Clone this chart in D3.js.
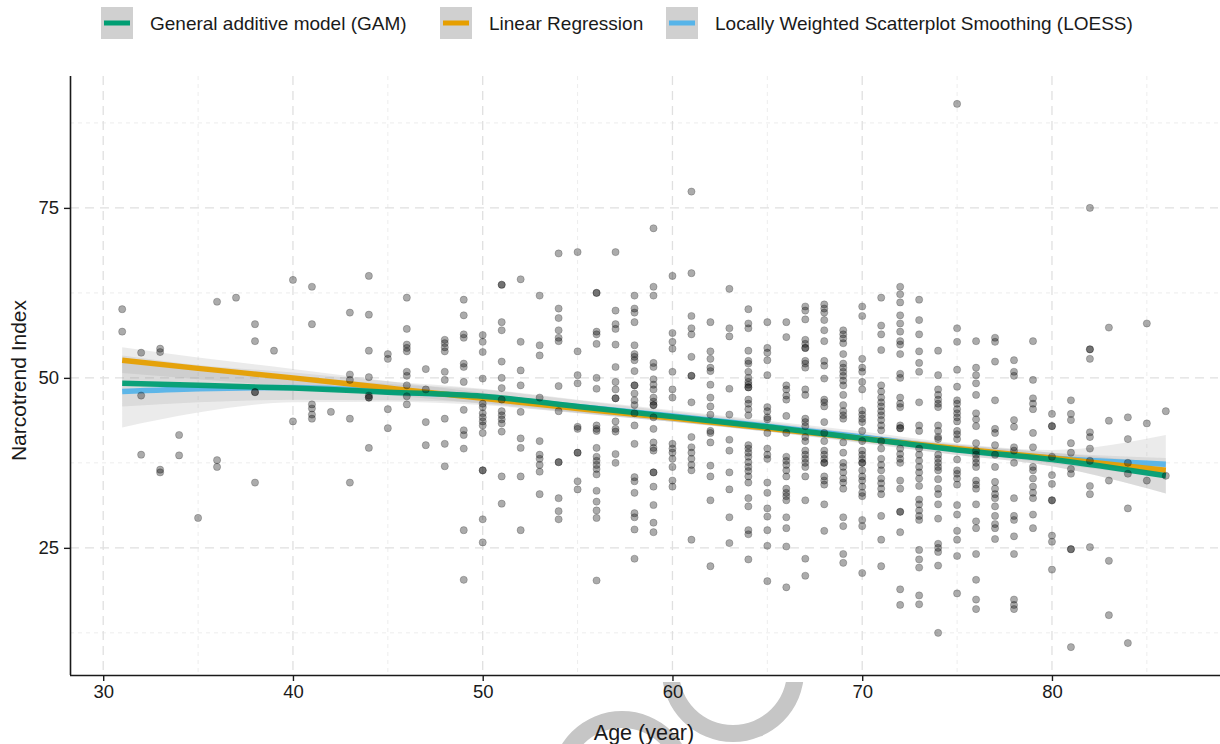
<!DOCTYPE html>
<html>
<head>
<meta charset="utf-8">
<script src="https://cdn.jsdelivr.net/npm/d3@7"></script>
<style>
  body { margin: 0; background: #fff; }
  svg { display: block; }
  text { font-family: "Liberation Sans", Arial, Helvetica, sans-serif; fill: #1a1a1a; }
</style>
</head>
<body>
<svg width="1220" height="744"></svg>
<script>
// age (years) of each column of points, and the narcotrend readings in that column
const ages = [31,32,33,34,35,36,37,38,39,40,41,42,43,44,45,46,47,48,49,50,51,52,53,54,55,56,57,58,
  59,60,61,62,63,64,65,66,67,68,69,70,71,72,73,74,75,76,77,78,79,80,81,82,83,84,85,86];
const narcotrend = [
  [60.1, 56.8],
  [53.7, 47.4, 38.7],
  [54.3, 53.8, 36.5, 36.1],
  [41.6, 38.6],
  [29.4],
  [61.2, 37.9, 36.9],
  [61.8],
  [57.9, 55.4, 47.9, 47.9, 34.6],
  [54.0],
  [64.4, 43.6],
  [63.4, 57.9, 46.1, 45.5, 44.6, 44.0],
  [45.0],
  [59.6, 50.5, 49.7, 44.0, 34.6],
  [65.0, 59.3, 54.0, 50.1, 47.4, 47.1, 47.1, 39.7],
  [53.5, 52.8, 45.4, 42.6],
  [61.8, 57.2, 54.9, 54.4, 53.9, 50.9, 50.3, 48.9, 47.3, 46.1],
  [51.3, 48.3, 43.5, 40.1],
  [55.6, 55.1, 54.5, 53.9, 50.9, 49.7, 44.0, 40.3, 37.0],
  [61.5, 59.2, 56.4, 55.9, 52.1, 51.6, 49.4, 45.3, 42.3, 41.6, 39.6, 27.6, 20.3],
  [56.3, 55.3, 53.8, 49.9, 46.2, 45.7, 44.8, 44.2, 43.6, 43.0, 41.9, 36.4, 36.4, 29.2, 25.8],
  [63.7, 63.7, 58.2, 57.0, 52.4, 50.0, 48.5, 46.8, 45.1, 44.5, 43.9, 43.3, 42.1, 35.5, 31.5],
  [64.5, 55.3, 51.1, 48.9, 45.0, 41.1, 39.7, 35.5, 27.6],
  [62.1, 54.8, 53.3, 47.1, 40.7, 38.7, 38.1, 37.2, 36.2, 32.9],
  [68.3, 60.2, 58.8, 57.0, 55.9, 55.4, 48.8, 45.1, 37.6, 37.6, 32.3, 30.4, 29.2],
  [68.5, 53.9, 50.4, 49.2, 42.8, 42.5, 39.0, 39.0, 34.8, 33.6],
  [62.5, 62.5, 56.8, 56.4, 55.0, 50.0, 48.4, 43.0, 42.5, 42.2, 39.7, 38.4, 37.8, 37.2, 36.6, 35.8, 33.4, 31.8, 30.5, 29.4, 20.2],
  [68.5, 59.9, 57.9, 57.2, 54.9, 51.6, 49.4, 48.3, 47.0, 47.0, 43.6, 42.5, 42.1, 38.8, 37.5],
  [62.1, 60.2, 59.6, 58.2, 54.8, 53.5, 53.1, 52.6, 51.0, 48.9, 48.9, 47.7, 46.7, 46.0, 44.8, 43.0, 40.3, 35.4, 34.8, 33.1, 30.1, 29.5, 27.7, 23.4],
  [72.0, 63.4, 62.1, 52.2, 51.6, 49.8, 49.0, 48.3, 47.1, 46.5, 46.0, 46.0, 44.2, 42.5, 40.5, 39.7, 39.3, 36.1, 36.1, 34.0, 31.3, 28.7, 27.3],
  [65.0, 56.6, 55.3, 54.3, 50.9, 48.3, 47.1, 40.3, 39.6, 39.0, 38.1, 36.9, 34.9, 34.0],
  [77.4, 65.4, 59.1, 57.3, 56.4, 53.1, 50.3, 50.3, 46.4, 41.3, 39.8, 39.0, 38.1, 37.2, 36.4, 26.2],
  [58.2, 53.9, 52.8, 51.5, 51.0, 49.0, 47.1, 45.8, 44.6, 42.2, 41.9, 40.5, 37.1, 35.5, 32.0, 22.3],
  [63.1, 57.3, 56.1, 48.4, 44.6, 40.9, 39.3, 36.1, 33.6, 29.5, 25.7],
  [60.1, 58.0, 57.3, 54.0, 52.5, 52.1, 50.9, 50.0, 49.4, 49.0, 48.6, 48.6, 46.8, 46.2, 45.4, 44.5, 40.1, 39.6, 39.0, 38.4, 37.6, 36.9, 36.3, 35.5, 34.6, 32.3, 31.1, 27.6, 27.0, 23.3],
  [58.2, 54.4, 53.7, 52.6, 50.4, 45.7, 45.1, 44.2, 43.9, 41.9, 39.6, 38.7, 38.1, 34.6, 33.1, 30.8, 29.6, 27.6, 25.3, 20.1],
  [58.2, 56.0, 48.9, 48.3, 47.4, 46.8, 44.4, 41.9, 38.4, 37.8, 37.2, 36.4, 35.5, 33.7, 33.1, 32.6, 32.0, 29.5, 27.9, 25.2, 19.2],
  [60.5, 59.9, 58.6, 55.6, 55.0, 54.4, 54.4, 52.5, 52.1, 51.5, 48.3, 47.5, 44.0, 43.5, 42.9, 41.3, 40.7, 39.3, 38.7, 38.1, 37.5, 36.9, 35.5, 32.0, 23.4, 20.9],
  [60.8, 60.2, 59.6, 58.5, 57.0, 55.4, 52.5, 51.8, 49.9, 46.8, 46.4, 45.8, 43.5, 41.9, 40.7, 39.3, 38.7, 38.1, 37.5, 37.5, 35.5, 34.9, 34.3, 31.4, 27.5],
  [57.0, 56.4, 55.8, 55.1, 53.5, 52.1, 51.5, 50.9, 50.3, 49.6, 48.9, 47.5, 46.0, 45.1, 44.5, 44.0, 40.5, 39.0, 37.5, 36.9, 36.1, 35.2, 34.6, 33.7, 29.5, 28.2, 24.1, 22.8],
  [60.5, 59.1, 52.8, 51.5, 50.9, 49.4, 48.3, 45.2, 44.6, 44.0, 43.5, 42.2, 40.7, 39.3, 38.7, 38.1, 37.5, 37.5, 36.4, 35.5, 34.9, 34.0, 33.1, 32.6, 29.1, 28.2, 21.3],
  [61.8, 57.7, 56.4, 54.1, 48.9, 48.0, 47.1, 46.4, 45.8, 45.1, 44.5, 43.8, 43.0, 42.3, 40.7, 39.6, 38.1, 37.2, 36.4, 35.2, 34.5, 33.7, 32.9, 29.7, 26.2, 22.3],
  [63.4, 62.3, 61.1, 59.2, 58.0, 56.8, 55.4, 54.9, 53.5, 50.6, 50.0, 47.1, 46.2, 45.7, 43.0, 42.6, 42.6, 39.6, 38.8, 38.1, 37.5, 34.9, 33.7, 30.3, 30.3, 27.3, 18.9, 16.6],
  [61.5, 58.5, 56.4, 53.9, 52.2, 50.9, 46.4, 43.0, 42.2, 39.6, 38.7, 37.8, 36.9, 36.1, 35.2, 34.1, 32.1, 31.4, 30.5, 29.7, 29.1, 24.7, 23.3, 22.1, 18.0, 16.7],
  [54.0, 50.4, 48.3, 47.5, 46.8, 46.2, 45.7, 43.0, 42.2, 41.3, 41.0, 38.7, 38.1, 37.5, 36.9, 36.4, 35.1, 33.7, 32.9, 31.4, 29.3, 25.6, 25.0, 24.4, 22.4, 12.5],
  [90.3, 57.3, 55.3, 51.2, 48.7, 46.7, 46.2, 45.4, 44.8, 44.2, 43.6, 42.2, 41.7, 41.0, 38.0, 36.4, 35.9, 35.2, 34.3, 31.3, 29.9, 27.5, 26.2, 23.8, 18.3],
  [55.4, 51.5, 50.4, 49.2, 47.5, 44.8, 43.9, 42.9, 40.4, 39.3, 38.7, 38.1, 37.5, 36.9, 34.9, 34.3, 33.7, 31.4, 28.9, 27.9, 24.1, 20.3, 17.4, 16.0],
  [55.9, 55.3, 52.4, 46.7, 42.5, 41.9, 40.1, 38.7, 36.9, 34.7, 33.7, 32.9, 32.3, 31.1, 29.7, 28.5, 27.9, 26.3],
  [52.6, 50.9, 50.3, 43.8, 42.8, 39.8, 39.3, 37.5, 32.3, 29.7, 29.1, 26.7, 24.1, 17.4, 16.6, 16.0],
  [55.4, 49.7, 47.0, 46.2, 45.4, 41.9, 39.8, 36.9, 36.4, 35.2, 34.0, 33.1, 32.3, 29.9, 27.9],
  [44.7, 42.9, 42.9, 38.4, 35.7, 34.4, 32.0, 32.0, 26.8, 25.9, 21.8],
  [46.7, 44.7, 43.8, 40.4, 39.0, 36.6, 35.9, 24.8, 24.8, 10.4],
  [75.0, 54.2, 54.2, 52.8, 42.0, 41.3, 39.6, 37.8, 34.1, 32.9, 25.1],
  [57.4, 43.7, 34.9, 23.1, 15.1],
  [44.2, 41.0, 37.5, 35.9, 30.8, 11.0],
  [58.0, 43.3, 34.9],
  [45.1, 35.6]
];

// smoothers: fitted value and half width of the band
const fitAges  = [31, 35, 40, 45, 50, 55, 60, 65, 70, 75, 80, 86];
const gamFit   = [49.2, 48.9, 48.5, 47.9, 47.3, 45.8, 44.3, 42.8, 41.1, 39.4, 38.0, 35.6];
const gamSe    = [3.4, 2.5, 1.7, 1.2, 1.0, 0.9, 0.75, 0.7, 0.7, 0.75, 1.0, 2.6];
const lmFit    = [52.6, 51.4, 50.0, 48.5, 47.0, 45.5, 44.1, 42.6, 41.1, 39.6, 38.2, 36.4];
const lmSe     = [1.9, 1.6, 1.3, 1.0, 0.8, 0.65, 0.55, 0.5, 0.5, 0.6, 0.8, 1.1];
const loessFit = [48.0, 48.4, 48.6, 48.0, 47.2, 45.8, 44.4, 42.9, 41.3, 39.5, 38.2, 37.3];
const loessSe  = [5.3, 3.5, 2.2, 1.5, 1.2, 1.0, 0.85, 0.8, 0.8, 0.85, 1.2, 4.3];

const xTicks = [30, 40, 50, 60, 70, 80];
const xMinor = [35, 45, 55, 65, 75, 85];
const yTicks = [25, 50, 75];
const yMinor = [12.5, 37.5, 62.5, 87.5];

const legendLabels = ['General additive model (GAM)', 'Linear Regression',
  'Locally Weighted Scatterplot Smoothing (LOESS)'];
const colors = { gam: '#009E73', lm: '#E69F00', loess: '#56B4E9' };

const svg = d3.select('svg');
const panel = { left: 70, right: 1218, top: 76, bottom: 675 };

const x = d3.scaleLinear().domain([28.25, 88.75]).range([panel.left, panel.right]);
const y = d3.scaleLinear().domain([6.3, 94.4]).range([panel.bottom, panel.top]);

// grey rings behind the bottom margin
const clip = svg.append('clipPath').attr('id', 'ringclip');
clip.append('rect').attr('x', 0).attr('y', 682).attr('width', 1220).attr('height', 62);
const ring = d3.arc().innerRadius(54).outerRadius(71).startAngle(0).endAngle(2 * Math.PI);
svg.append('g').attr('clip-path', 'url(#ringclip)')
  .selectAll('path').data([[733, 671], [622, 782]])
  .enter().append('path')
  .attr('transform', d => `translate(${d[0]},${d[1]})`)
  .attr('d', ring())
  .attr('fill', '#c6c6c6');

// grid
const grid = svg.append('g');
grid.selectAll('.vmin').data(xMinor).enter().append('line')
  .attr('x1', d => x(d)).attr('x2', d => x(d))
  .attr('y1', panel.top).attr('y2', panel.bottom)
  .attr('stroke', '#e8e8e8').attr('stroke-width', 0.8).attr('stroke-dasharray', '4,4');
grid.selectAll('.hmin').data(yMinor).enter().append('line')
  .attr('x1', panel.left).attr('x2', panel.right)
  .attr('y1', d => y(d)).attr('y2', d => y(d))
  .attr('stroke', '#e8e8e8').attr('stroke-width', 0.8).attr('stroke-dasharray', '4,4');
grid.selectAll('.vmaj').data(xTicks).enter().append('line')
  .attr('x1', d => x(d)).attr('x2', d => x(d))
  .attr('y1', panel.top).attr('y2', panel.bottom)
  .attr('stroke', '#e0e0e0').attr('stroke-width', 1.3).attr('stroke-dasharray', '9,6');
grid.selectAll('.hmaj').data(yTicks).enter().append('line')
  .attr('x1', panel.left).attr('x2', panel.right)
  .attr('y1', d => y(d)).attr('y2', d => y(d))
  .attr('stroke', '#e0e0e0').attr('stroke-width', 1.3).attr('stroke-dasharray', '9,6');

// confidence bands
const bands = [
  { fit: loessFit, se: loessSe },
  { fit: gamFit, se: gamSe },
  { fit: lmFit, se: lmSe }
];
const area = d3.area()
  .x((d, i) => x(fitAges[i]))
  .y0(d => y(d[0] - d[1]))
  .y1(d => y(d[0] + d[1]))
  .curve(d3.curveMonotoneX);
svg.append('g').selectAll('path').data(bands).enter().append('path')
  .attr('d', b => area(b.fit.map((v, i) => [v, b.se[i]])))
  .attr('fill', '#999').attr('fill-opacity', 0.2);

// fitted lines
const line = d3.line()
  .x((d, i) => x(fitAges[i]))
  .y(d => y(d))
  .curve(d3.curveMonotoneX);
svg.append('g').selectAll('path')
  .data([[loessFit, colors.loess], [lmFit, colors.lm], [gamFit, colors.gam]])
  .enter().append('path')
  .attr('d', d => line(d[0]))
  .attr('fill', 'none')
  .attr('stroke', d => d[1])
  .attr('stroke-width', 5.5)
  .attr('stroke-opacity', 0.95);

// points
const points = [];
ages.forEach((a, i) => narcotrend[i].forEach(v => points.push([a, v])));
svg.append('g').selectAll('circle').data(points).enter().append('circle')
  .attr('cx', d => x(d[0]))
  .attr('cy', d => y(d[1]))
  .attr('r', 3.6)
  .attr('fill', '#000').attr('fill-opacity', 0.33)
  .attr('stroke', '#000').attr('stroke-opacity', 0.2).attr('stroke-width', 1);

// axes
const xAxis = svg.append('g').attr('transform', `translate(0,${panel.bottom})`)
  .call(d3.axisBottom(x).tickValues(xTicks).tickSize(6).tickPadding(4));
const yAxis = svg.append('g').attr('transform', `translate(${panel.left},0)`)
  .call(d3.axisLeft(y).tickValues(yTicks).tickSize(6).tickPadding(5));
[xAxis, yAxis].forEach(g => {
  g.select('.domain').attr('stroke', '#1a1a1a').attr('stroke-width', 1.6);
  g.selectAll('.tick line').attr('stroke', '#1a1a1a').attr('stroke-width', 1.4);
  g.selectAll('.tick text').attr('font-size', 18.5).attr('fill', '#1a1a1a')
    .style('font-family', '"Liberation Sans", Arial, sans-serif');
});
xAxis.select('.domain').attr('d', `M${panel.left},0.5H${panel.right + 2}`);
yAxis.select('.domain').attr('d', `M0.5,${panel.top}V${panel.bottom}`);

svg.append('text').attr('x', (panel.left + panel.right) / 2).attr('y', 740)
  .attr('text-anchor', 'middle').attr('font-size', 21.5).text('Age (year)');
svg.append('text').attr('transform', `translate(26,${(panel.top + panel.bottom) / 2 + 5}) rotate(-90)`)
  .attr('text-anchor', 'middle').attr('font-size', 21).text('Narcotrend Index');

// legend
const legendX = [101, 440, 666];
const legendColors = [colors.gam, colors.lm, colors.loess];
const legend = svg.append('g').selectAll('g').data(legendLabels).enter().append('g')
  .attr('transform', (d, i) => `translate(${legendX[i]},7)`);
legend.append('rect').attr('width', 32).attr('height', 32).attr('fill', '#d0d0d0');
legend.append('line').attr('x1', 3).attr('x2', 29).attr('y1', 16).attr('y2', 16)
  .attr('stroke', (d, i) => legendColors[i]).attr('stroke-width', 5);
legend.append('text').attr('x', 49).attr('y', 23).attr('font-size', 19).text(d => d);
</script>
</body>
</html>
